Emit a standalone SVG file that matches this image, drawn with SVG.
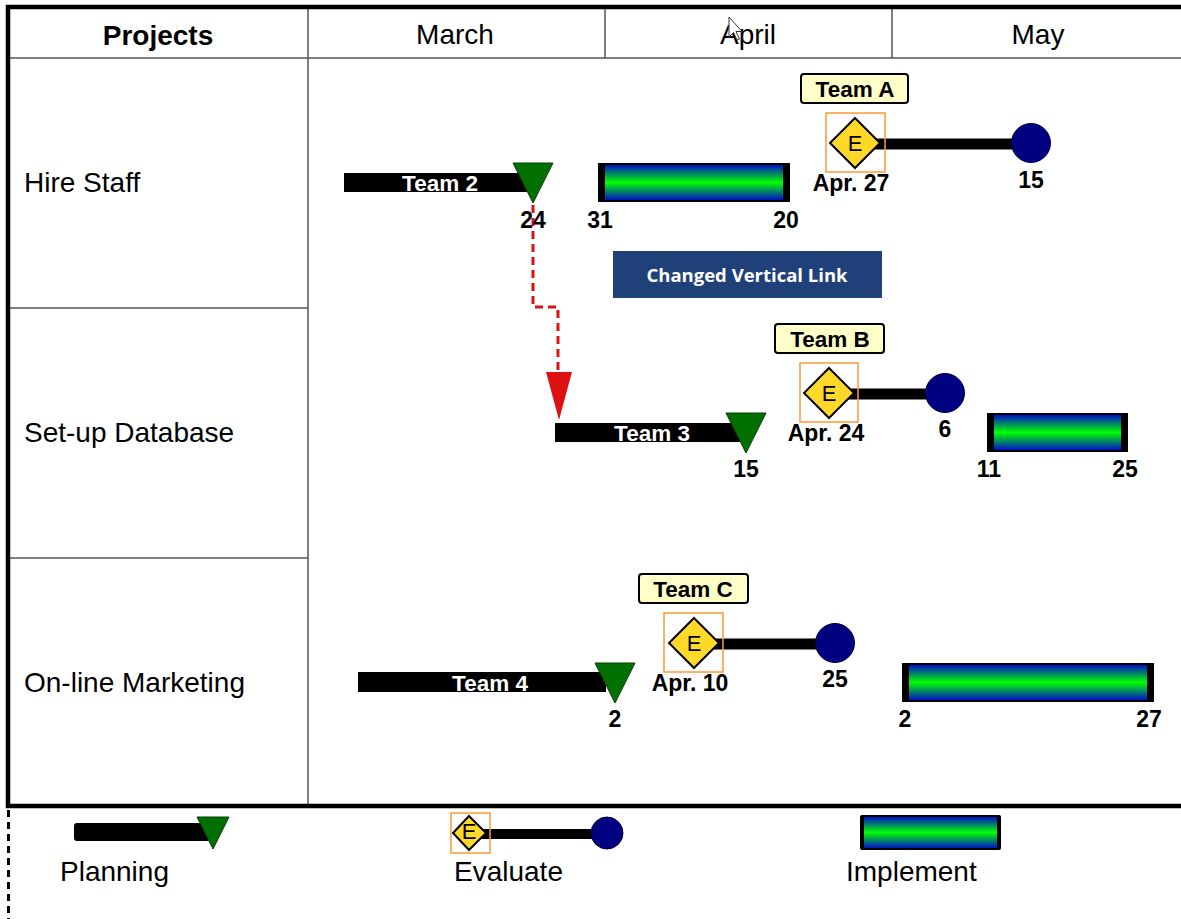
<svg xmlns="http://www.w3.org/2000/svg" width="1181" height="919" viewBox="0 0 1181 919">
  <defs>
    <linearGradient id="implGrad" x1="0" y1="0" x2="0" y2="1">
      <stop offset="0" stop-color="#0010c8"/>
      <stop offset="0.5" stop-color="#00ff00"/>
      <stop offset="1" stop-color="#0010c8"/>
    </linearGradient>
  </defs>
  <style>
    .hdr { font-family: "Liberation Sans", Arial, sans-serif; font-size: 28px; fill: #000; }
    .hdrb { font-family: "Liberation Sans", Arial, sans-serif; font-size: 28px; font-weight: bold; fill: #000; }
    .row { font-family: "Liberation Sans", Arial, sans-serif; font-size: 28px; fill: #000; }
    .num { font-family: "Liberation Sans", Arial, sans-serif; font-size: 23px; font-weight: bold; fill: #000; text-anchor: middle; }
    .barlbl { font-family: "Liberation Sans", Arial, sans-serif; font-size: 22.5px; font-weight: bold; fill: #fff; text-anchor: middle; }
    .team { font-family: "Liberation Sans", Arial, sans-serif; font-size: 22.5px; font-weight: bold; fill: #000; text-anchor: middle; }
    .teambox { fill: #ffffc8; stroke: #000; stroke-width: 2; }
    .bar { fill: #000; }
    .tri { fill: #007000; stroke: #0a3a0a; stroke-width: 1; }
    .dia { fill: #ffd92a; stroke: #000; stroke-width: 2; }
    .sel { fill: none; stroke: #ff9933; stroke-width: 1.5; }
    .lnk { stroke: #000; stroke-width: 11; }
    .dot { fill: #000080; stroke: #000040; stroke-width: 1; }
    .elbl { font-family: "Liberation Sans", Arial, sans-serif; font-size: 22px; fill: #000; text-anchor: middle; }
    .leg { font-family: "Liberation Sans", Arial, sans-serif; font-size: 28px; fill: #000; }
    .thin { stroke: #555; stroke-width: 1.5; }
    .thick { stroke: #000; stroke-width: 4.5; }
  </style>

  <rect x="0" y="0" width="1181" height="919" fill="#fff"/>

  <!-- table grid -->
  <g id="grid">
    <line class="thin" x1="10" y1="58" x2="1181" y2="58"/>
    <line class="thin" x1="308" y1="8" x2="308" y2="806"/>
    <line class="thin" x1="605" y1="8" x2="605" y2="58"/>
    <line class="thin" x1="892" y1="8" x2="892" y2="58"/>
    <line class="thin" x1="10" y1="308" x2="308" y2="308"/>
    <line class="thin" x1="10" y1="558" x2="308" y2="558"/>
    <line class="thick" x1="6" y1="7" x2="1181" y2="7"/>
    <line class="thick" x1="8" y1="5" x2="8" y2="808"/>
    <line class="thick" x1="6" y1="806" x2="1181" y2="806"/>
    <line x1="8.5" y1="810" x2="8.5" y2="919" stroke="#000" stroke-width="3" stroke-dasharray="7,5"/>
  </g>

  <!-- header -->
  <g id="header">
    <text class="hdrb" x="158" y="45" text-anchor="middle">Projects</text>
    <text class="hdr" x="455" y="44" text-anchor="middle">March</text>
    <text class="hdr" x="748" y="44" text-anchor="middle">April</text>
    <text class="hdr" x="1038" y="44" text-anchor="middle">May</text>
  </g>

  <!-- row titles -->
  <g id="row-labels">
    <text class="row" x="24" y="192">Hire Staff</text>
    <text class="row" x="24" y="442">Set-up Database</text>
    <text class="row" x="24" y="692">On-line Marketing</text>
  </g>

  <!-- connectors -->
  <g id="connectors">
    <path d="M533,205 V307 H558 V372" fill="none" stroke="#dd1111" stroke-width="3" stroke-dasharray="8,5"/>
    <path d="M546,372 L572,372 L559,420 Z" fill="#dd1111"/>
  </g>

  <!-- Hire Staff: planning -->
  <g id="plan-team2">
    <rect class="bar" x="344" y="173" width="188" height="19"/>
    <text class="barlbl" x="440" y="191">Team 2</text>
    <path class="tri" d="M513,163 L553,163 L533,203 Z"/>
    <text class="num" x="533" y="228">24</text>
  </g>

  <!-- Hire Staff: implement -->
  <g id="impl-hire">
    <rect x="598" y="163" width="192" height="39" fill="#000"/>
    <rect x="605" y="165" width="178" height="35" fill="url(#implGrad)"/>
    <text class="num" x="600" y="228">31</text>
    <text class="num" x="786" y="228">20</text>
  </g>

  <!-- Hire Staff: evaluate -->
  <g id="eval-teamA">
    <rect class="teambox" x="801" y="74" width="107" height="29" rx="3"/>
    <text class="team" x="855" y="97">Team A</text>
    <line class="lnk" x1="870" y1="144" x2="1025" y2="144"/>
    <circle class="dot" cx="1031" cy="143" r="19.5"/>
    <path class="dia" d="M855,118 L880,143 L855,168 L830,143 Z"/>
    <text class="elbl" x="855" y="151">E</text>
    <rect class="sel" x="826" y="113" width="59" height="59"/>
    <text class="num" x="851" y="191">Apr. 27</text>
    <text class="num" x="1031" y="188">15</text>
  </g>

  <!-- annotation -->
  <g id="note">
    <rect x="613" y="251" width="269" height="47" fill="#20407a"/>
    <text x="747" y="282" text-anchor="middle" font-family="'Open Sans', 'Liberation Sans', sans-serif" font-size="18.5" font-weight="bold" fill="#fff">Changed Vertical Link</text>
  </g>

  <!-- Set-up Database: planning -->
  <g id="plan-team3">
    <rect class="bar" x="555" y="423" width="190" height="19"/>
    <text class="barlbl" x="652" y="441">Team 3</text>
    <path class="tri" d="M726,413 L766,413 L746,453 Z"/>
    <text class="num" x="746" y="477">15</text>
  </g>

  <!-- Set-up Database: evaluate -->
  <g id="eval-teamB">
    <rect class="teambox" x="775" y="324" width="109" height="29" rx="3"/>
    <text class="team" x="830" y="347">Team B</text>
    <line class="lnk" x1="845" y1="394" x2="940" y2="394"/>
    <circle class="dot" cx="945" cy="393" r="19.5"/>
    <path class="dia" d="M829,368 L854,393 L829,418 L804,393 Z"/>
    <text class="elbl" x="829" y="401">E</text>
    <rect class="sel" x="800" y="363" width="58" height="59"/>
    <text class="num" x="826" y="441">Apr. 24</text>
    <text class="num" x="945" y="437">6</text>
  </g>

  <!-- Set-up Database: implement -->
  <g id="impl-db">
    <rect x="987" y="413" width="141" height="39" fill="#000"/>
    <rect x="994" y="415" width="127" height="35" fill="url(#implGrad)"/>
    <text class="num" x="989" y="477">11</text>
    <text class="num" x="1125" y="477">25</text>
  </g>

  <!-- On-line Marketing: planning -->
  <g id="plan-team4">
    <rect class="bar" x="358" y="672" width="248" height="20"/>
    <text class="barlbl" x="490" y="691">Team 4</text>
    <path class="tri" d="M595,663 L635,663 L615,703 Z"/>
    <text class="num" x="615" y="727">2</text>
  </g>

  <!-- On-line Marketing: evaluate -->
  <g id="eval-teamC">
    <rect class="teambox" x="639" y="574" width="109" height="29" rx="3"/>
    <text class="team" x="693" y="597">Team C</text>
    <line class="lnk" x1="710" y1="644" x2="830" y2="644"/>
    <circle class="dot" cx="835" cy="643" r="19.5"/>
    <path class="dia" d="M694,618 L719,643 L694,668 L669,643 Z"/>
    <text class="elbl" x="694" y="651">E</text>
    <rect class="sel" x="664" y="613" width="59" height="59"/>
    <text class="num" x="690" y="691">Apr. 10</text>
    <text class="num" x="835" y="687">25</text>
  </g>

  <!-- On-line Marketing: implement -->
  <g id="impl-marketing">
    <rect x="902" y="663" width="252" height="39" fill="#000"/>
    <rect x="909" y="665" width="238" height="35" fill="url(#implGrad)"/>
    <text class="num" x="905" y="727">2</text>
    <text class="num" x="1149" y="727">27</text>
  </g>

  <!-- legend -->
  <g id="legend-planning">
    <rect class="bar" x="74" y="823" width="136" height="18" rx="3"/>
    <path class="tri" d="M197,817 L229,817 L213,849 Z"/>
    <text class="leg" x="60" y="881">Planning</text>
  </g>
  <g id="legend-evaluate">
    <line stroke="#000" stroke-width="10" x1="480" y1="834" x2="600" y2="834"/>
    <circle class="dot" cx="607" cy="833" r="16"/>
    <path class="dia" d="M469,816 L486,833 L469,850 L453,833 Z"/>
    <text class="elbl" x="469" y="839" font-size="16">E</text>
    <rect class="sel" x="451" y="813" width="39" height="40"/>
    <text class="leg" x="454" y="881">Evaluate</text>
  </g>
  <g id="legend-implement">
    <rect x="860" y="815" width="141" height="35" rx="2" fill="#000"/>
    <rect x="864" y="817" width="133" height="31" fill="url(#implGrad)"/>
    <text class="leg" x="846" y="881">Implement</text>
  </g>

  <!-- mouse pointer -->
  <g id="pointer">
    <path d="M729,17 L729,37 L733.5,32.5 L737,40 L739.5,39 L736,31.5 L742,31.5 Z" fill="#fff" stroke="#333" stroke-width="1"/>
  </g>
</svg>
